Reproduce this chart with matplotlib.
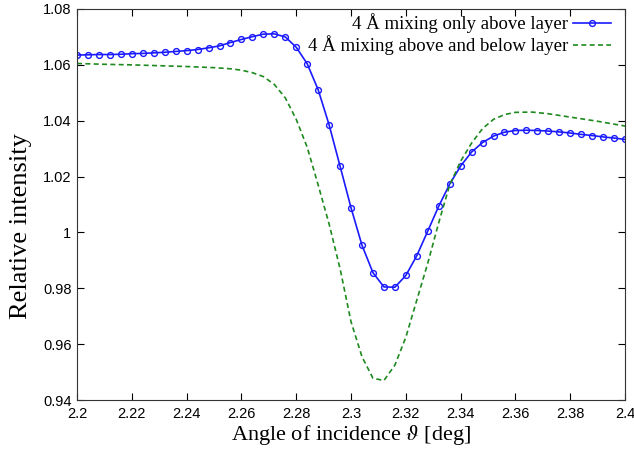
import numpy as np
import matplotlib.pyplot as plt

plt.rcParams['mathtext.fontset'] = 'stix'

# 4 A mixing only above layer (markers every 0.004 deg)
angle_above = np.round(np.arange(2.2, 2.4001, 0.004), 3)
above = [1.0635, 1.0636, 1.0637, 1.0637, 1.0638, 1.0640, 1.0641, 1.0643, 1.0645, 1.0648,
         1.0651, 1.0655, 1.0661, 1.0668, 1.0680, 1.0691, 1.0701, 1.0710, 1.0711, 1.0700,
         1.0663, 1.0604, 1.0511, 1.0385, 1.0237, 1.0088, 0.9954, 0.9856, 0.9805, 0.9804,
         0.9846, 0.9917, 1.0005, 1.0094, 1.0173, 1.0238, 1.0288, 1.0322, 1.0345, 1.0359,
         1.0365, 1.0366, 1.0365, 1.0363, 1.0360, 1.0356, 1.0351, 1.0347, 1.0342, 1.0338,
         1.0333]

# 4 A mixing above and below layer
angle_both = [2.200, 2.210, 2.220, 2.230, 2.240, 2.250, 2.256, 2.260, 2.264, 2.268,
              2.272, 2.276, 2.280, 2.284, 2.288, 2.292, 2.296, 2.300, 2.304, 2.308,
              2.312, 2.316, 2.320, 2.324, 2.328, 2.332, 2.336, 2.340, 2.344, 2.348,
              2.352, 2.356, 2.360, 2.366, 2.372, 2.380, 2.390, 2.400]
both = [1.0605, 1.0602, 1.0600, 1.0597, 1.0594, 1.0590, 1.0586, 1.0581, 1.0572, 1.0558,
        1.0530, 1.0482, 1.0405, 1.0305, 1.0170, 1.0030, 0.9870, 0.9680, 0.9555, 0.9478,
        0.9470, 0.9525, 0.9625, 0.9758, 0.9890, 1.0035, 1.0170, 1.0255, 1.0320, 1.0372,
        1.0405, 1.0422, 1.0430, 1.0431, 1.0425, 1.0413, 1.0398, 1.0381]

label_above = '4 Å mixing only above layer'
label_both = '4 Å mixing above and below layer'

fig = plt.figure(figsize=(6.34, 4.5), dpi=100)
ax = fig.add_axes([0.1215, 0.111, 0.8644, 0.869])

ax.plot(angle_above, above, '-o', color='#1a1aff', lw=1.2, ms=4.2, mew=1.0,
        mfc='none', label=label_above)
ax.plot(angle_both, both, '--', color='#1e8a1e', lw=1.2, dashes=(3, 2),
        label=label_both)

ax.set_xlim(2.2, 2.4)
ax.set_ylim(0.94, 1.08)
ax.set_xticks(np.arange(2.2, 2.4001, 0.02))
ax.set_yticks(np.arange(0.94, 1.0801, 0.02))
ax.xaxis.set_major_formatter(plt.FuncFormatter(lambda v, p: '%g' % round(v, 3)))
ax.yaxis.set_major_formatter(plt.FuncFormatter(lambda v, p: '%g' % round(v, 3)))
ax.tick_params(direction='in', top=True, right=True, length=5, width=0.8,
               labelsize=10.5)
ax.tick_params(axis='x', pad=5)
ax.tick_params(axis='y', pad=4)
for lab in ax.get_xticklabels() + ax.get_yticklabels():
    lab.set_family('Liberation Sans')
for s in ax.spines.values():
    s.set_color('#333333')

ax.set_xlabel(r'Angle of incidence $\vartheta$ [deg]', family='Liberation Serif',
              fontsize=16)
ax.xaxis.set_label_coords(0.5, -0.059)
ax.set_ylabel('Relative intensity', family='Liberation Serif', fontsize=19)
ax.yaxis.set_label_coords(-0.082, 0.445)

leg = ax.legend(loc='upper right', frameon=False, markerfirst=False,
                prop={'family': 'Liberation Serif', 'size': 13.5},
                handlelength=2.0, handletextpad=0.3, labelspacing=0.12,
                borderaxespad=0.0, bbox_to_anchor=(0.988, 1.008))

fig.savefig('out.png', dpi=100)
